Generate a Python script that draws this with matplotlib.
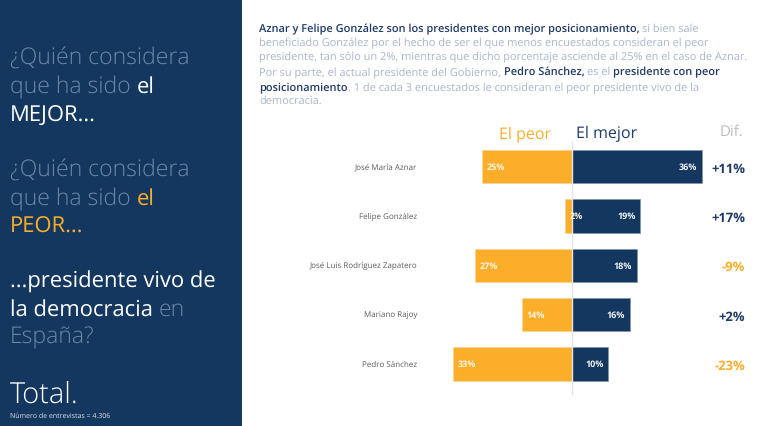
import matplotlib
matplotlib.use("Agg")
import matplotlib.pyplot as plt
from matplotlib.patches import Rectangle

names = ["José María Aznar", "Felipe González", "José Luis Rodríguez Zapatero", "Mariano Rajoy", "Pedro Sánchez"]
peor = [25, 2, 27, 14, 33]
mejor = [36, 19, 18, 16, 10]
dif_labels = ["+11%", "+17%", "-9%", "+2%", "-23%"]

NAVY = "#14375f"
ORANGE = "#fbae2a"
FADE = "#6f87a6"
MUTED = "#a9b5cd"
DARK = "#1f3b66"
GREY = "#bdbdbd"
W, H = 763, 427

plt.rcParams["font.family"] = ["Open Sans", "DejaVu Sans"]
plt.rcParams["text.hinting"] = "no_hinting"
plt.rcParams["text.hinting_factor"] = 1
fig = plt.figure(figsize=(W / 100, H / 100), dpi=100, facecolor="white")

bg = fig.add_axes([0, 0, 1, 1])
bg.set_xlim(0, W)
bg.set_ylim(H, 0)
bg.axis("off")
bg.add_patch(Rectangle((0, 0), 242, H, color=NAVY, lw=0))

ax_l, ax_r = 572 - 3.6 * 40, 572 + 3.6 * 40
ax_t, ax_b = 143.0, 389.65
ax = fig.add_axes([ax_l / W, 1 - ax_b / H, (ax_r - ax_l) / W, (ax_b - ax_t) / H])
ax.patch.set_alpha(0)
ax.set_xlim(-40, 40)
ax.set_ylim(len(names) - 0.5, -0.5)
ax.axis("off")
ypos = range(len(names))
ax.barh(ypos, [-v for v in peor], height=0.675, color=ORANGE, edgecolor="#fdd490", linewidth=0.5)
ax.barh(ypos, mejor, height=0.675, color=NAVY, edgecolor="#7f93ad", linewidth=0.5)
ax.axvline(0, ymin=-0.02, ymax=1.0, color="#e4e4e4", lw=1, zorder=5, clip_on=False)
for y, p, m in zip(ypos, peor, mejor):
    ax.annotate(f"{p}%", (-p, y), xytext=(3.4, 0), textcoords="offset points", ha="left", va="center",
                color="#fff5e0", fontsize=6.6, fontweight="bold", zorder=6)
    ax.annotate(f"{m}%", (m, y), xytext=(-3.2, 0), textcoords="offset points", ha="right", va="center",
                color="#f0f3f7", fontsize=6.6, fontweight="bold", zorder=6)

centers = [167.6 + 49.3 * i for i in range(len(names))]
for name, d, c in zip(names, dif_labels, centers):
    bg.text(417, c, name, ha="right", va="center", fontsize=6.0, color="#5d5d5d")
    col = ORANGE if d.startswith("-") else DARK
    bg.text(745, c + 5, d, ha="right", va="baseline", fontsize=9.4, color=col, fontweight="bold")

bg.text(499, 138, "El peor", fontsize=11.7, color=ORANGE, va="baseline")
bg.text(576, 138, "El mejor", fontsize=11.8, color=DARK, va="baseline")
bg.text(720, 136, "Dif.", fontsize=11, color=GREY, va="baseline")

fig.canvas.draw()
rend = fig.canvas.get_renderer()


def runs(x, y, parts, **kw):
    for s, col, wt, size in parts:
        t = bg.text(x, y, s, fontsize=size, color=col, fontweight=wt, va="baseline", **kw)
        x += t.get_window_extent(rend).width


LT, NR = 16.6, 15.5
W_ = "white"
runs(10, 65, [("¿Quién considera", FADE, "light", LT)])
runs(10, 93, [("que ha sido ", FADE, "light", LT), ("el", W_, "normal", NR)])
runs(10, 122, [("MEJOR...", W_, "normal", NR)])
runs(10, 177, [("¿Quién considera", FADE, "light", LT)])
runs(10, 205, [("que ha sido ", FADE, "light", LT), ("el", ORANGE, "normal", NR)])
runs(10, 233, [("PEOR...", ORANGE, "normal", NR)])
runs(10, 287, [("...presidente vivo de", W_, "normal", NR)])
runs(10, 316, [("la democracia ", W_, "normal", NR), ("en", FADE, "light", LT)])
runs(10, 343, [("España?", FADE, "light", LT)])
runs(10, 403, [("Total.", W_, "light", 21)])
runs(10, 418, [("Número de entrevistas = 4.306", "#dfe4ea", "normal", 5.0)])

PS = 7.9
runs(259, 32, [("Aznar y Felipe González son los presidentes con mejor posicionamiento, ", DARK, "semibold", PS),
               ("si bien sale", MUTED, "normal", PS)])
runs(259, 46, [("beneficiado González por el hecho de ser el que menos encuestados consideran el peor", MUTED, "normal", PS)])
runs(259, 60, [("presidente, tan sólo un 2%, mientras que dicho porcentaje asciende al 25% en el caso de Aznar.", MUTED, "normal", PS)])
runs(259, 75, [("Por su parte, el actual presidente del Gobierno, ", MUTED, "normal", PS), ("Pedro Sánchez, ", DARK, "semibold", PS),
               ("es el ", MUTED, "normal", PS), ("presidente con peor", DARK, "semibold", PS)])
runs(259, 90, [("posicionamiento", DARK, "semibold", PS),
               (". 1 de cada 3 encuestados le consideran el peor presidente vivo de la", MUTED, "normal", PS)])
runs(259, 104, [("democracia.", MUTED, "normal", PS)])

fig.savefig("out.png", dpi=100, facecolor="white")
